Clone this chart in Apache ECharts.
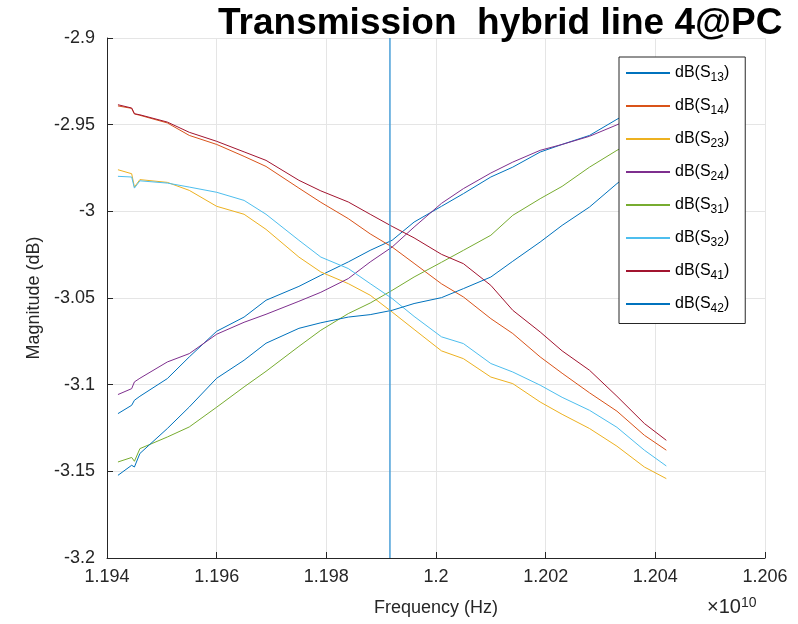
<!DOCTYPE html>
<html>
<head>
<meta charset="utf-8">
<script src="https://cdn.jsdelivr.net/npm/echarts@6.0.0/dist/echarts.min.js"></script>
<style>
  html, body { margin: 0; padding: 0; background: #fff; }
  #chart { width: 798px; height: 624px; }
</style>
</head>
<body>
<div id="chart"></div>
<script>
// frequency in units of 1e10 Hz
const freq = [1.1942, 1.19445, 1.1945, 1.1946, 1.1951, 1.1955, 1.196, 1.1965, 1.1969, 1.1975, 1.1979, 1.1984, 1.1988,
  1.1992, 1.1996, 1.2001, 1.2005, 1.201, 1.2014, 1.2019, 1.2023, 1.2028, 1.2033, 1.2038, 1.2042];

const s13 = [-3.1167, -3.1119, -3.1090, -3.1067, -3.0965, -3.0840, -3.0692, -3.0610, -3.0513, -3.0433, -3.0369, -3.0292, -3.0225,
  -3.0167, -3.0062, -2.9971, -2.9898, -2.9802, -2.9745, -2.9658, -2.9614, -2.9562, -2.9469, -2.9383, -2.9331];
const s14 = [-2.9392, -2.9406, -2.9438, -2.9446, -2.9490, -2.9562, -2.9614, -2.9683, -2.9741, -2.9866, -2.9948, -3.0042, -3.0130,
  -3.0206, -3.0300, -3.0418, -3.0494, -3.0619, -3.0705, -3.0840, -3.0934, -3.1047, -3.1153, -3.1292, -3.1378];
const s23 = [-2.9760, -2.9783, -2.9860, -2.9817, -2.9833, -2.9879, -2.9971, -3.0017, -3.0104, -3.0264, -3.0350, -3.0417, -3.0484,
  -3.0581, -3.0681, -3.0805, -3.0850, -3.0956, -3.0994, -3.1100, -3.1171, -3.1253, -3.1355, -3.1475, -3.1542];
const s24 = [-3.1057, -3.1023, -3.0984, -3.0963, -3.0869, -3.0821, -3.0709, -3.0640, -3.0594, -3.0519, -3.0467, -3.0388, -3.0292,
  -3.0206, -3.0091, -2.9954, -2.9869, -2.9779, -2.9716, -2.9648, -2.9614, -2.9567, -2.9501, -2.9429, -2.9389];
const s31 = [-3.1446, -3.1420, -3.1442, -3.1369, -3.1302, -3.1244, -3.1130, -3.1013, -3.0923, -3.0779, -3.0686, -3.0590, -3.0529,
  -3.0456, -3.0379, -3.0294, -3.0225, -3.0138, -3.0023, -2.9927, -2.9856, -2.9745, -2.9648, -2.9562, -2.9498];
const s32 = [-2.9798, -2.9802, -2.9866, -2.9824, -2.9837, -2.9860, -2.9890, -2.9937, -3.0017, -3.0167, -3.0264, -3.0330, -3.0417,
  -3.0503, -3.0606, -3.0724, -3.0763, -3.0878, -3.0927, -3.1003, -3.1073, -3.1148, -3.1246, -3.1378, -3.1469];
const s41 = [-2.9385, -2.9404, -2.9437, -2.9443, -2.9485, -2.9544, -2.9596, -2.9657, -2.9706, -2.9821, -2.9882, -2.9946, -3.0017,
  -3.0087, -3.0153, -3.0248, -3.0302, -3.0427, -3.0571, -3.0696, -3.0805, -3.0917, -3.1067, -3.1224, -3.1321];
const s42 = [-3.1523, -3.1465, -3.1475, -3.1397, -3.1253, -3.1129, -3.0963, -3.0859, -3.0761, -3.0675, -3.0643, -3.0610, -3.0596,
  -3.0571, -3.0532, -3.0498, -3.0446, -3.0379, -3.0288, -3.0177, -3.0081, -2.9975, -2.9840, -2.9723, -2.9625];

const names = ['13', '14', '23', '24', '31', '32', '41', '42'];
const values = [s13, s14, s23, s24, s31, s32, s41, s42];
const colors = ['#0072BD', '#D95319', '#EDB120', '#7E2F8E', '#77AC30', '#4DBEEE', '#A2142F', '#0072BD'];

// vertical marker frequency
const markerFreq = 1.19916;
const yMin = -3.2;
const yMax = -2.9;

const font = 'Arial, "Liberation Sans", Helvetica, sans-serif';
const axisColor = '#262626';

const chart = echarts.init(document.getElementById('chart'));

const series = names.map((n, k) => ({
  name: 'dB(S' + n + ')',
  type: 'line',
  showSymbol: false,
  symbol: 'none',
  animation: false,
  color: colors[k],
  lineStyle: { width: 1, color: colors[k] },
  data: freq.map((f, i) => [f, values[k][i]])
}));

series.push({
  name: 'marker',
  type: 'line',
  symbol: 'none',
  silent: true,
  animation: false,
  lineStyle: { width: 1.5, color: '#4a9fd8' },
  data: [[markerFreq, yMin], [markerFreq, yMax]]
});

chart.setOption({
  backgroundColor: '#fff',
  animation: false,
  title: {
    text: 'Transmission  hybrid line 4@PC',
    left: 213,
    top: 0,
    textStyle: { fontSize: 37, fontWeight: 'bold', color: '#000', fontFamily: font }
  },
  legend: {
    orient: 'vertical',
    left: 619,
    top: 57,
    backgroundColor: '#fff',
    borderColor: axisColor,
    borderWidth: 1,
    borderRadius: 0,
    padding: [8, 16, 9, 7],
    itemGap: 14.5,
    itemWidth: 44,
    itemHeight: 2,
    icon: 'rect',
    data: names.map(n => 'dB(S' + n + ')'),
    formatter: function (name) {
      const sub = name.replace('dB(S', '').replace(')', '');
      return '{a|dB(S}{s|' + sub + '}{a|)}';
    },
    textStyle: {
      fontFamily: font,
      color: '#000',
      rich: {
        a: { fontSize: 16, fontFamily: font, color: '#000' },
        s: { fontSize: 12, fontFamily: font, color: '#000', padding: [9, 0, 0, 0] }
      }
    }
  },
  grid: { left: 107, right: 33, top: 38, bottom: 66, containLabel: false },
  xAxis: {
    type: 'value',
    min: 1.194,
    max: 1.206,
    interval: 0.002,
    name: 'Frequency (Hz)',
    nameLocation: 'middle',
    nameGap: 41,
    nameTextStyle: { fontSize: 18, color: axisColor, fontFamily: font },
    axisLine: { show: true, lineStyle: { color: axisColor, width: 1 } },
    axisTick: { show: true, inside: true, length: 6, lineStyle: { color: axisColor } },
    axisLabel: {
      fontSize: 18, color: axisColor, fontFamily: font, margin: 10,
      formatter: v => String(+v.toFixed(3))
    },
    splitLine: { show: true, lineStyle: { color: '#e5e5e5', width: 1 } }
  },
  yAxis: {
    type: 'value',
    min: yMin,
    max: yMax,
    interval: 0.05,
    name: 'Magnitude (dB)',
    nameLocation: 'middle',
    nameRotate: 90,
    nameGap: 64,
    nameTextStyle: { fontSize: 18, color: axisColor, fontFamily: font },
    axisLine: { show: true, lineStyle: { color: axisColor, width: 1 } },
    axisTick: { show: true, inside: true, length: 6, lineStyle: { color: axisColor } },
    axisLabel: {
      fontSize: 18, color: axisColor, fontFamily: font, margin: 12,
      formatter: v => String(+v.toFixed(2))
    },
    splitLine: { show: true, lineStyle: { color: '#e5e5e5', width: 1 } }
  },
  graphic: [{
    type: 'text',
    left: 707,
    top: 596,
    style: {
      text: '{a|×10}{b|10}',
      rich: {
        a: { fontSize: 20, fontFamily: font, fill: axisColor, padding: [9, 0, 0, 0] },
        b: { fontSize: 14, fontFamily: font, fill: axisColor }
      }
    }
  }],
  series: series
});
</script>
</body>
</html>
